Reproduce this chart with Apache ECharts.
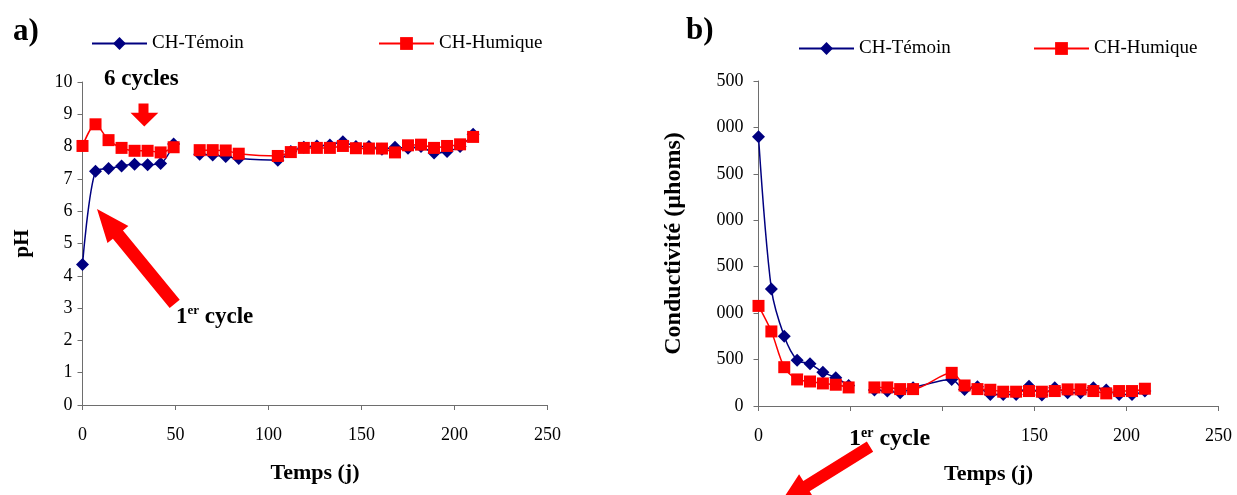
<!DOCTYPE html>
<html>
<head>
<meta charset="utf-8">
<script src="https://cdn.jsdelivr.net/npm/echarts@6/dist/echarts.min.js"></script>
<style>
  html, body { margin: 0; padding: 0; background: #fff; }
  #chart { width: 1237px; height: 495px; }
</style>
</head>
<body>
<div id="chart"></div>
<script>
// ---- data ----
const days = [0, 7, 14, 21, 28, 35, 42, 49, 56, 63, 70, 77, 84, 105, 112, 119, 126, 133, 140, 147, 154, 161, 168, 175, 182, 189, 196, 203, 210];

// a) pH
const phTemoin  = [4.35, 7.24, 7.32, 7.40, 7.45, 7.44, 7.48, 8.08, null, 7.76, 7.74, 7.69, 7.63, 7.58, 7.85, 7.98, 8.02, 8.05, 8.15, 8.00, 8.00, 7.92, 7.98, 7.95, 8.00, 7.80, 7.85, 8.00, 8.38];
const phHumique = [8.02, 8.69, 8.20, 7.96, 7.87, 7.87, 7.82, 7.98, null, 7.89, 7.89, 7.88, 7.78, 7.71, 7.83, 7.96, 7.96, 7.96, 8.02, 7.95, 7.94, 7.94, 7.82, 8.04, 8.06, 7.96, 8.02, 8.07, 8.30];

// b) Conductivité (µhoms)
const condTemoin  = [2900, 1261, 750, 493, 454, 364, 304, 221, null, 171, 161, 143, 196, 286, 179, 207, 125, 125, 125, 214, 118, 196, 143, 143, 196, 171, 125, 125, 161];
const condHumique = [1078, 803, 418, 286, 264, 243, 229, 200, null, 200, 200, 182, 182, 357, 221, 182, 175, 154, 154, 161, 154, 161, 179, 179, 161, 136, 161, 161, 186];

// tick labels as they appear in the reference
const phXLabels   = ['0', '50', '100', '150', '200', '250'];
const phYLabels   = ['0', '1', '2', '3', '4', '5', '6', '7', '8', '9', '10'];
const condXLabels = ['0', '', '', '150', '200', '250'];
const condYLabels = ['0', '500', '000', '500', '000', '500', '000', '500'];

const seriesNames = ['CH-Témoin', 'CH-Humique'];

// ---- styling ----
const FONT = "'Liberation Serif', 'Times New Roman', serif";
const BLUE = '#000080';
const RED = '#ff0000';
const AXIS = '#6e6e6e';

function pairs(xs, ys) {
  return xs.map((x, i) => [x, ys[i] === null ? '-' : ys[i]]);
}

function arrowPoints(tail, tip, shaftW, headW, headL) {
  const dx = tip[0] - tail[0], dy = tip[1] - tail[1];
  const len = Math.sqrt(dx * dx + dy * dy);
  const ux = dx / len, uy = dy / len;
  const px = -uy, py = ux;
  const bx = tip[0] - ux * headL, by = tip[1] - uy * headL;
  const s = shaftW / 2, h = headW / 2;
  return [
    [tail[0] + px * s, tail[1] + py * s],
    [bx + px * s, by + py * s],
    [bx + px * h, by + py * h],
    tip,
    [bx - px * h, by - py * h],
    [bx - px * s, by - py * s],
    [tail[0] - px * s, tail[1] - py * s]
  ];
}

const chart = echarts.init(document.getElementById('chart'), null, { renderer: 'canvas' });

const axisCommon = {
  axisLine: { show: true, lineStyle: { color: AXIS, width: 1 } },
  axisTick: { show: true, length: 5, lineStyle: { color: AXIS } },
  splitLine: { show: false },
  nameTextStyle: { fontFamily: FONT, fontWeight: 'bold', fontSize: 22, color: '#000' }
};

const legendCommon = {
  orient: 'horizontal',
  padding: 0,
  itemWidth: 55,
  itemHeight: 16,
  selectedMode: false,
  textStyle: { fontFamily: FONT, fontSize: 19, color: '#000' }
};

const option = {
  animation: false,
  backgroundColor: '#fff',
  grid: [
    { left: 82.5, top: 82, width: 465, height: 323 },
    { left: 758.5, top: 81, width: 460, height: 325 }
  ],
  xAxis: [
    Object.assign({}, axisCommon, {
      type: 'value', gridIndex: 0, min: 0, max: 250, interval: 50,
      name: 'Temps (j)', nameLocation: 'middle', nameGap: 57,
      axisLabel: { margin: 21, fontFamily: FONT, fontSize: 18, color: '#000',
        formatter: v => phXLabels[Math.round(v / 50)] }
    }),
    Object.assign({}, axisCommon, {
      type: 'value', gridIndex: 1, min: 0, max: 250, interval: 50,
      name: 'Temps (j)', nameLocation: 'middle', nameGap: 57,
      axisLabel: { margin: 21, fontFamily: FONT, fontSize: 18, color: '#000',
        formatter: v => condXLabels[Math.round(v / 50)] }
    })
  ],
  yAxis: [
    Object.assign({}, axisCommon, {
      type: 'value', gridIndex: 0, min: 0, max: 10, interval: 1,
      name: 'pH', nameLocation: 'middle', nameGap: 49, nameRotate: 90,
      nameTextStyle: { fontFamily: FONT, fontWeight: 'bold', fontSize: 21, color: '#000' },
      axisLabel: { margin: 10, fontFamily: FONT, fontSize: 18, color: '#000',
        formatter: v => phYLabels[Math.round(v)] }
    }),
    Object.assign({}, axisCommon, {
      type: 'value', gridIndex: 1, min: 0, max: 3500, interval: 500,
      name: 'Conductivité (µhoms)', nameLocation: 'middle', nameGap: 73, nameRotate: 90,
      nameTextStyle: { fontFamily: FONT, fontWeight: 'bold', fontSize: 24, color: '#000' },
      axisLabel: { margin: 15, fontFamily: FONT, fontSize: 18, color: '#000',
        formatter: v => condYLabels[Math.round(v / 500)] }
    })
  ],
  legend: [
    Object.assign({}, legendCommon, { data: [seriesNames[0]], left: 91, top: 34 }),
    Object.assign({}, legendCommon, { data: [seriesNames[1]], left: 378, top: 34 }),
    Object.assign({}, legendCommon, { data: [seriesNames[0]], left: 798, top: 39 }),
    Object.assign({}, legendCommon, { data: [seriesNames[1]], left: 1033, top: 39 })
  ],
  series: [
    {
      name: seriesNames[0], type: 'line', xAxisIndex: 0, yAxisIndex: 0,
      data: pairs(days, phTemoin), smooth: 0.3, connectNulls: false,
      symbol: 'diamond', symbolSize: 13, itemStyle: { color: BLUE }, lineStyle: { color: BLUE, width: 1.5 }, z: 2
    },
    {
      name: seriesNames[1], type: 'line', xAxisIndex: 0, yAxisIndex: 0,
      data: pairs(days, phHumique), smooth: 0.3, connectNulls: false,
      symbol: 'rect', symbolSize: 12, itemStyle: { color: RED }, lineStyle: { color: RED, width: 1.5 }, z: 3
    },
    {
      name: seriesNames[0], type: 'line', xAxisIndex: 1, yAxisIndex: 1,
      data: pairs(days, condTemoin), smooth: 0.3, connectNulls: false,
      symbol: 'diamond', symbolSize: 13, itemStyle: { color: BLUE }, lineStyle: { color: BLUE, width: 1.5 }, z: 2
    },
    {
      name: seriesNames[1], type: 'line', xAxisIndex: 1, yAxisIndex: 1,
      data: pairs(days, condHumique), smooth: 0.3, connectNulls: false,
      symbol: 'rect', symbolSize: 12, itemStyle: { color: RED }, lineStyle: { color: RED, width: 1.5 }, z: 3
    }
  ],
  graphic: [
    { type: 'text', left: 13, top: 16, style: { text: 'a)', font: "bold 31px " + FONT, fill: '#000' } },
    { type: 'text', left: 686, top: 15, style: { text: 'b)', font: "bold 31px " + FONT, fill: '#000' } },
    { type: 'text', left: 104, top: 68, style: { text: '6 cycles', font: "bold 23px " + FONT, fill: '#000' } },
    { type: 'polygon', shape: { points: [[138.5, 103.5], [148.5, 103.5], [148.5, 112.7], [158.3, 112.7], [144.3, 126.5], [130.5, 112.7], [138.5, 112.7]] }, style: { fill: RED } },
    { type: 'polygon', shape: { points: arrowPoints([174.7, 303.8], [97, 209], 13, 27, 33) }, style: { fill: RED } },
    {
      type: 'text', left: 176, top: 304, z: 10,
      style: {
        text: '{n|1}{s|er}{n| cycle}',
        rich: {
          n: { font: "bold 23px " + FONT, fill: '#000', lineHeight: 26 },
          s: { font: "bold 13px " + FONT, fill: '#000', verticalAlign: 'top', lineHeight: 26, padding: [0, 0, 10, 0] }
        }
      }
    },
    {
      type: 'text', left: 849, top: 426, z: 10,
      style: {
        text: '{n|1}{s|er}{n| cycle}',
        backgroundColor: '#fff',
        rich: {
          n: { font: "bold 24px " + FONT, fill: '#000', lineHeight: 26 },
          s: { font: "bold 14px " + FONT, fill: '#000', verticalAlign: 'top', lineHeight: 26, padding: [0, 0, 10, 0] }
        }
      }
    },
    { type: 'polygon', z: 11, shape: { points: arrowPoints([870, 446.7], [781, 502], 12, 28, 30) }, style: { fill: RED } }
  ]
};

chart.setOption(option);
</script>
</body>
</html>
